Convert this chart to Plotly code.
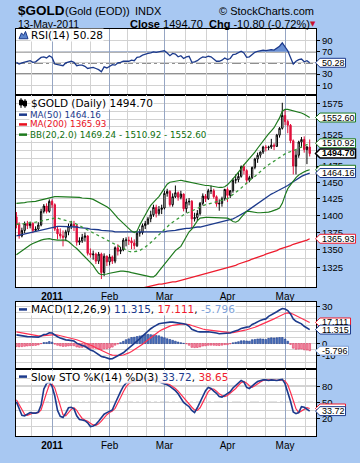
import math
import plotly.graph_objects as go

# ---------------- data ----------------
month_labels = ["<b>2011</b>", "Feb", "Mar", "Apr", "May"]
month_idx = [13, 34, 54, 77, 98]          # trading-day index of first day of month
month_len = [23, 21, 20, 23, 21, 22]      # weekdays in Dec..May (for grid thirds)

opn = [1398,1387,1370,1378,1388,1385,1388,1378,1380,1386,
       1406,1414,1406,1421,1416,1380,1373,1370,1368,1376,
       1384,1387,1385,1361,1363,1368,1370,1345,1343,1344,
       1334,1344,1318,1341,1333,1340,1334,1353,1348,1350,
       1364,1364,1363,1360,1356,1374,1375,1385,1388,1395,
       1401,1412,1403,1409,1411,1433,1436,1416,1428,1434,
       1427,1432,1410,1420,1421,1395,1397,1403,1418,1429,
       1425,1437,1437,1428,1417,1418,1425,1439,1430,1437,
       1453,1454,1459,1474,1468,1453,1457,1473,1486,1492,
       1497,1505,1504,1505,1508,1506,1524,1535,1556,1546,
       1540,1515,1475,1492,1513,1517,1501,1505]
high = [1405,1390,1382,1391,1392,1391,1390,1384,1390,1410,
        1417,1418,1424,1424,1418,1384,1381,1378,1379,1388,
        1392,1392,1387,1368,1373,1375,1371,1352,1349,1346,
        1347,1346,1345,1342,1344,1342,1355,1358,1354,1367,
        1368,1369,1368,1365,1376,1380,1388,1392,1398,1407,
        1416,1416,1414,1416,1437,1440,1438,1433,1445,1436,
        1437,1433,1425,1426,1423,1404,1408,1420,1433,1432,
        1440,1445,1440,1430,1424,1428,1440,1442,1438,1456,
        1462,1466,1476,1478,1470,1460,1474,1488,1496,1498,
        1507,1508,1507,1518,1511,1526,1537,1577,1566,1549,
        1542,1517,1500,1515,1521,1522,1507,1517]
low = [1381,1366,1368,1374,1380,1381,1374,1376,1378,1384,
       1403,1403,1404,1411,1377,1365,1366,1355,1363,1371,
       1380,1377,1356,1357,1360,1362,1342,1339,1336,1330,
       1330,1309,1313,1327,1328,1330,1331,1342,1344,1348,
       1355,1357,1351,1351,1354,1369,1372,1380,1386,1390,
       1398,1397,1400,1402,1409,1428,1413,1413,1426,1422,
       1424,1406,1404,1415,1381,1391,1392,1400,1415,1420,
       1423,1432,1425,1413,1407,1413,1422,1420,1426,1434,
       1448,1450,1457,1462,1447,1450,1455,1470,1480,1488,
       1494,1498,1500,1502,1500,1505,1520,1533,1540,1527,
       1511,1462,1462,1488,1504,1496,1478,1490]
close = [1387,1370,1378,1388,1385,1388,1378,1380,1386,1406,
         1414,1406,1421,1416,1380,1373,1370,1368,1376,1384,
         1387,1385,1361,1363,1368,1370,1345,1343,1344,1334,
         1344,1318,1341,1333,1340,1334,1353,1348,1350,1364,
         1364,1363,1360,1356,1374,1375,1385,1388,1395,1401,
         1412,1403,1409,1411,1433,1436,1416,1428,1434,1427,
         1432,1410,1420,1421,1395,1397,1403,1418,1429,1425,
         1437,1437,1428,1417,1418,1425,1439,1430,1437,1453,
         1454,1459,1474,1468,1453,1457,1473,1486,1492,1497,
         1505,1504,1505,1508,1506,1524,1535,1556,1546,1540,
         1515,1475,1492,1513,1517,1501,1505,1494.70]

ma50 = [1370,1371,1372,1373,1374,1375,1376,1377,1378,1379,
        1380,1381,1382,1383,1384,1384,1384,1384,1384,1384,
        1384,1383,1383,1382,1382,1381,1381,1380,1380,1379,
        1379,1378,1378,1377,1377,1377,1376,1376,1376,1375,
        1375,1375,1375,1375,1375,1375,1375,1375,1375,1375,
        1375,1375,1375,1376,1376,1377,1377,1378,1378,1379,
        1380,1380,1381,1381,1382,1382,1383,1383,1384,1385,
        1386,1386,1387,1388,1389,1390,1391,1392,1393,1395,
        1397,1399,1401,1404,1406,1409,1412,1415,1418,1421,
        1424,1427,1430,1432,1434,1436,1438,1440,1442,1445,
        1448,1451,1454,1456,1459,1461,1463,1464.16]
ma200 = [1262,1263,1263,1264,1265,1266,1266,1267,1268,1269,
         1269,1270,1271,1272,1272,1273,1274,1274,1275,1276,
         1277,1277,1278,1279,1280,1280,1281,1282,1283,1283,
         1284,1285,1286,1286,1287,1288,1289,1289,1290,1291,
         1292,1293,1294,1294,1295,1295,1296,1297,1298,1299,
         1300,1301,1302,1302,1303,1304,1304,1305,1305,1306,
         1307,1308,1309,1310,1311,1312,1313,1314,1315,1316,
         1317,1318,1319,1320,1321,1322,1323,1324,1326,1327,
         1328,1330,1331,1333,1334,1335,1337,1338,1339,1341,
         1342,1344,1345,1346,1348,1349,1351,1352,1353,1355,
         1356,1358,1359,1360,1362,1363,1364,1365.93]
bb_upper = [1418,1418,1419,1419,1420,1420,1421,1421,1422,1423,
            1424,1425,1426,1428,1428,1428,1428,1427,1427,1427,
            1427,1427,1427,1427,1426,1426,1426,1425,1424,1422,
            1420,1418,1416,1413,1410,1406,1401,1396,1392,1388,
            1384,1380,1377,1375,1377,1386,1394,1400,1408,1415,
            1420,1424,1428,1434,1442,1447,1450,1451,1452,1453,
            1453,1452,1451,1451,1450,1449,1448,1447,1446,1445,
            1445,1444,1443,1442,1442,1442,1443,1446,1450,1455,
            1460,1465,1471,1477,1482,1486,1491,1497,1503,1509,
            1515,1520,1526,1531,1536,1544,1552,1563,1566,1566,
            1565,1564,1563,1562,1560,1558,1555,1552.60]
bb_mid = [1387,1387,1388,1388,1389,1389,1390,1390,1391,1392,
          1393,1394,1395,1396,1396,1396,1395,1394,1393,1392,
          1390,1389,1387,1385,1383,1381,1379,1377,1375,1373,
          1371,1369,1367,1364,1362,1360,1358,1356,1354,1352,
          1349,1348,1347,1347,1348,1349,1351,1354,1357,1360,
          1364,1368,1372,1376,1380,1384,1387,1390,1393,1396,
          1399,1401,1403,1405,1407,1409,1411,1413,1415,1416,
          1417,1418,1419,1420,1421,1422,1423,1425,1428,1431,
          1434,1438,1441,1445,1449,1452,1456,1459,1463,1467,
          1471,1474,1477,1480,1483,1486,1489,1492,1494,1496,
          1497,1499,1501,1503,1505,1507,1509,1510.92]
bb_lower = [1343,1346,1349,1352,1355,1357,1359,1361,1362,1364,
            1365,1366,1366,1365,1364,1364,1364,1364,1364,1362,
            1358,1355,1352,1348,1344,1340,1336,1332,1328,1322,
            1317,1315,1315,1316,1317,1318,1319,1319,1320,1320,
            1320,1319,1318,1317,1317,1316,1315,1314,1313,1312,
            1312,1315,1320,1325,1330,1335,1340,1345,1349,1352,
            1355,1362,1370,1376,1380,1386,1392,1396,1397,1397,
            1397,1397,1397,1397,1397,1397,1397,1396,1394,1391,
            1390,1392,1397,1402,1406,1406,1405,1404,1404,1404,
            1404,1404,1405,1406,1407,1409,1411,1418,1430,1440,
            1446,1452,1457,1461,1464,1466,1468,1469.24]

rsi = [51,48,50,52,53,54,51,52,56,60,
       61,59,63,60,48,47,46,45,50,52,
       53,51,45,46,46,44,40,41,42,40,
       38,34,43,41,44,47,46,50,51,53,
       53,53,55,54,60,61,64,66,67,68,
       70,69,70,71,72,68,63,67,66,61,
       63,58,61,62,51,52,54,58,61,60,
       62,61,57,53,53,55,59,56,58,65,
       66,68,71,68,60,61,65,69,71,72,
       73,72,73,74,73,77,80,86,80,72,
       60,48,53,56,57,52,54,50.28]

macd = [7.0,6.5,6.0,5.8,5.6,5.5,5.3,5.0,5.2,6.2,
        7.3,7.6,8.7,8.5,6.8,5.5,4.5,3.5,3.0,2.8,
        2.6,2.0,0.3,-0.8,-1.6,-2.2,-4.0,-5.2,-6.0,-7.3,
        -9.0,-10.5,-11.0,-12.0,-12.4,-12.3,-11.0,-10.2,-9.0,-7.5,
        -5.5,-3.8,-1.5,0.0,2.0,4.0,6.0,8.5,10.5,12.0,
        13.5,14.8,16.0,16.5,17.0,17.2,17.4,17.4,17.2,16.8,
        16.5,16.0,15.5,14.0,11.5,10.5,9.8,9.5,9.8,9.5,
        9.6,9.4,9.0,8.5,8.0,8.0,8.2,8.0,8.6,9.5,
        10.2,11.0,12.3,13.0,13.3,13.6,15.5,16.5,17.8,18.8,
        19.5,20.0,22.0,23.5,24.5,25.8,27.2,28.4,28.0,26.8,
        24.0,20.0,18.0,17.0,16.0,14.0,12.5,11.315]
signal = [9.5,9.1,8.5,8.0,7.6,7.2,6.9,6.5,6.3,6.3,
          6.5,6.7,7.1,7.4,7.3,6.9,6.4,5.8,5.2,4.7,
          4.3,3.8,3.1,2.3,1.5,0.7,-0.2,-1.2,-2.2,-3.4,
          -4.5,-5.7,-6.8,-7.8,-8.7,-9.4,-9.7,-9.8,-9.7,-9.3,
          -8.6,-7.6,-6.4,-5.1,-3.7,-2.2,-0.6,1.2,3.0,4.8,
          6.5,8.2,9.7,11.1,12.3,13.3,14.1,14.8,15.3,15.6,
          15.8,15.8,15.7,15.4,14.6,13.8,13.0,12.3,11.8,11.3,
          11.0,10.7,10.4,10.0,9.6,9.3,9.1,8.9,8.8,8.9,
          9.2,9.5,10.1,10.7,11.2,11.7,12.4,13.2,14.1,15.0,
          15.9,16.7,17.8,18.9,20.0,21.1,22.3,23.5,24.4,24.9,
          24.7,23.8,22.6,21.5,20.4,19.1,17.8,17.111]
hist = [-2.5,-2.6,-2.5,-2.2,-2.0,-1.7,-1.6,-1.5,-1.1,-0.1,
        0.8,0.9,1.6,1.1,-0.5,-1.4,-1.9,-2.3,-2.2,-1.9,
        -1.7,-1.8,-2.8,-3.1,-3.1,-2.9,-3.8,-4.0,-3.8,-3.9,
        -4.5,-4.8,-4.2,-4.2,-3.7,-2.9,-1.3,-0.4,0.7,1.8,
        3.1,3.8,4.9,5.1,5.7,6.2,6.6,7.3,7.5,7.2,
        7.0,6.6,6.3,5.4,4.7,3.9,3.3,2.6,1.9,1.2,
        0.7,0.2,-0.2,-1.4,-3.1,-3.3,-3.2,-2.8,-2.0,-1.8,
        -1.4,-1.3,-1.4,-1.5,-1.6,-1.3,-0.9,-0.9,-0.2,0.6,
        1.0,1.5,2.2,2.3,2.1,1.9,3.1,3.3,3.7,3.8,
        3.6,3.3,4.2,4.6,4.5,4.7,4.9,4.9,3.6,1.9,
        -0.7,-3.8,-4.6,-4.5,-4.4,-5.1,-5.3,-5.796]

sto_k = [51,38,26,25,28,31,30,30,32,45,
         75,85,88,80,62,35,24,22,30,40,
         41,38,25,18,17,16,12,5,6,9,
         15,22,28,31,34,36,48,60,70,80,
         86,88,89,90,92,94,95,95,94,93,
         91,90,89,86,85,83,80,76,72,66,
         58,50,46,42,35,31,40,50,60,72,
         78,76,71,67,61,60,63,67,70,77,
         82,87,91,88,78,76,81,85,89,91,
         92,92,91,92,91,91,92,93,85,70,
         52,32,29,31,42,41,38,33.72]
sto_d = [55,46,36,28,26,28,30,30,31,36,
         50,68,83,84,77,59,40,27,25,31,
         37,40,35,27,20,17,15,11,8,7,
         10,15,22,27,31,34,39,48,59,70,
         79,85,88,89,90,92,94,95,95,94,
         93,91,90,88,87,85,83,80,76,71,
         65,58,51,46,41,36,35,40,50,61,
         70,75,75,71,66,63,61,63,67,71,
         76,82,87,89,86,81,78,81,85,88,
         91,92,92,92,91,91,91,92,90,83,
         69,51,38,31,34,38,40,38.65]

n = len(close)
idx = list(range(n))

# ---------------- geometry helpers ----------------
W, H = 360, 463
ML, MR, MT, MB = 16, 44, 29, 16
PW, PH = W - ML - MR, H - MT - MB


def X(px):
    return (px - ML) / PW


def Y(py):
    return (H - MB - py) / PH


NAVY = "#1c3a8c"
RED = "#ee1c2e"
CANDLE_RED = "#e0103c"
GREEN = "#1e7a1e"
GRID = "#d2d2d2"
MONTH_GRID = "#96a6c4"
BG = "#a8c8f2"
TICKFONT = dict(family="Liberation Sans, Arial", size=9.5, color="black")

dom = {
    "rsi": [Y(97), Y(29)],
    "px": [Y(294), Y(97)],
    "macd": [Y(378), Y(309)],
    "sto": [Y(447), Y(378)],
}
rng = {
    "rsi": [-8, 111],
    "px": [3.11328, 3.20130],
    "macd": [-20.5, 34],
    "sto": [-12.7, 112.7],
}

# minor vertical grid: thirds of each month
starts = [month_idx[0] - month_len[0]] + month_idx
minor_x = []
for s, ln in zip(starts, month_len):
    minor_x += [s + ln / 3.0, s + 2 * ln / 3.0]
minor_x = [v for v in minor_x if -0.1 < v < 109]

XR = [-0.15, 109.3]

fig = go.Figure()

# ---------- RSI ----------
fig.add_trace(go.Scatter(x=idx, y=[70] * n, mode="lines", line=dict(width=0),
                         xaxis="x", yaxis="y", hoverinfo="skip"))
fig.add_trace(go.Scatter(x=idx, y=[max(v, 70) for v in rsi], mode="lines",
                         line=dict(width=0), fill="tonexty", fillcolor="#6a90d4",
                         xaxis="x", yaxis="y", hoverinfo="skip"))
fig.add_trace(go.Scatter(x=idx, y=rsi, mode="lines", line=dict(color=NAVY, width=1.3),
                         xaxis="x", yaxis="y"))

# ---------- price ----------
fig.add_trace(go.Scatter(x=idx, y=ma200, mode="lines", line=dict(color=RED, width=1.3),
                         xaxis="x2", yaxis="y2"))
fig.add_trace(go.Scatter(x=idx, y=ma50, mode="lines", line=dict(color=NAVY, width=1.3),
                         xaxis="x2", yaxis="y2"))
fig.add_trace(go.Scatter(x=idx, y=bb_upper, mode="lines", line=dict(color=GREEN, width=1.2),
                         xaxis="x2", yaxis="y2"))
fig.add_trace(go.Scatter(x=idx, y=bb_lower, mode="lines", line=dict(color=GREEN, width=1.2),
                         xaxis="x2", yaxis="y2"))
fig.add_trace(go.Scatter(x=idx, y=bb_mid, mode="lines",
                         line=dict(color="#3a9a3a", width=1.3, dash="dot"),
                         xaxis="x2", yaxis="y2"))
fig.add_trace(go.Candlestick(
    x=idx, open=opn, high=high, low=low, close=close, xaxis="x2", yaxis="y2",
    increasing=dict(line=dict(color="black", width=1), fillcolor="white"),
    decreasing=dict(line=dict(color=CANDLE_RED, width=1), fillcolor=CANDLE_RED),
    whiskerwidth=0))

# ---------- MACD ----------
fig.add_trace(go.Bar(
    x=idx, y=hist, width=0.62, xaxis="x3", yaxis="y3",
    marker=dict(color=["#4a74c0" if v >= 0 else "#f49aae" for v in hist],
                line=dict(color=["#1c3a8c" if v >= 0 else "#e0305a" for v in hist], width=0.6))))
fig.add_trace(go.Scatter(x=idx, y=signal, mode="lines", line=dict(color="#ff3050", width=1.2),
                         xaxis="x3", yaxis="y3"))
fig.add_trace(go.Scatter(x=idx, y=macd, mode="lines", line=dict(color=NAVY, width=1.6),
                         xaxis="x3", yaxis="y3"))

# ---------- Slow STO ----------
fig.add_trace(go.Scatter(x=idx, y=sto_d, mode="lines", line=dict(color="#ff3050", width=1.2),
                         xaxis="x4", yaxis="y4"))
fig.add_trace(go.Scatter(x=idx, y=sto_k, mode="lines", line=dict(color=NAVY, width=1.6),
                         xaxis="x4", yaxis="y4"))


def xaxis(anchor, labels):
    return dict(
        domain=[0, 1], anchor=anchor, range=XR, tickmode="array",
        tickvals=month_idx, ticktext=month_labels, showticklabels=labels,
        tickfont=dict(family="Liberation Sans, Arial", size=10, color="black"),
        ticks="", showgrid=True, gridcolor=MONTH_GRID, gridwidth=1,
        minor=dict(tickmode="array", tickvals=minor_x, showgrid=True, gridcolor=GRID,
                   gridwidth=1, ticks=""),
        showline=True, mirror=True, linecolor="black", linewidth=1, zeroline=False,
        fixedrange=True, rangeslider=dict(visible=False))


def yaxis(anchor, key, tickvals, grid_vals, minor_vals, log=False):
    d = dict(
        domain=dom[key], anchor=anchor, range=rng[key], side="right",
        tickmode="array", tickvals=tickvals, ticktext=[str(v) for v in tickvals],
        tickfont=TICKFONT, ticks="outside", ticklen=3, tickcolor="black",
        showgrid=False,
        minor=dict(tickmode="array", tickvals=grid_vals + minor_vals, showgrid=True,
                   gridcolor=GRID, ticks=""),
        showline=True, mirror=True, linecolor="black", linewidth=1, zeroline=False,
        fixedrange=True)
    if log:
        d["type"] = "log"
    return d


# labelled ticks (labels hidden behind value tags in the reference are left out)
price_ticks = [1325, 1350, 1375, 1400, 1425, 1450, 1475, 1525, 1575]
price_grid = [1325, 1350, 1375, 1400, 1425, 1450, 1475, 1500, 1525, 1550, 1575]
price_minor = [1312.5, 1337.5, 1362.5, 1387.5, 1412.5, 1437.5, 1462.5, 1487.5,
               1512.5, 1537.5, 1562.5]

fig.update_layout(
    width=W, height=H, margin=dict(l=ML, r=MR, t=MT, b=MB),
    paper_bgcolor=BG, plot_bgcolor="white", showlegend=False, bargap=0.3,
    xaxis=xaxis("y", False), xaxis2=xaxis("y2", True),
    xaxis3=xaxis("y3", False), xaxis4=xaxis("y4", True),
    yaxis=yaxis("x", "rsi", [10, 30, 70, 90], [10, 30, 50, 70, 90], []),
    yaxis2=yaxis("x2", "px", price_ticks, price_grid, price_minor, log=True),
    yaxis3=yaxis("x3", "macd", [-10, 0, 30], [-10, 0, 10, 20, 30], [-15, -5, 5, 15, 25]),
    yaxis4=yaxis("x4", "sto", [20, 50, 80], [20, 50, 80], [5, 35, 65, 95]),
)
for k in ["xaxis2", "xaxis3", "xaxis4"]:
    fig.layout[k].matches = "x"

shapes = []
# reference lines
for yref, val, dash in [("y", 70, "solid"), ("y", 30, "solid"), ("y", 50, "dashdot"),
                        ("y4", 80, "solid"), ("y4", 20, "solid"), ("y4", 50, "dashdot")]:
    shapes.append(dict(type="line", xref="x domain", yref=yref, x0=0, x1=1, y0=val, y1=val,
                       line=dict(color="black", width=1, dash=dash), layer="below"))


def paper_y(key, v):
    d0, d1 = dom[key]
    r0, r1 = rng[key]
    f = math.log10(v) if key == "px" else v
    return d0 + (f - r0) / (r1 - r0) * (d1 - d0)


annotations = []
TAGFONT = 9


def text_w(s):
    w = 0.0
    for ch in s:
        w += {".": 0.278, "-": 0.333}.get(ch, 0.556)
    return w * TAGFONT


def tag(key, v, text, color, bold=False, show_text=True):
    y = paper_y(key, v)
    h = 4.6 / PH
    x_tip, x_l = X(315.5), X(320)
    x_r = X(320 + text_w(text) + 3)
    shapes.append(dict(
        type="path", xref="paper", yref="paper",
        path=(f"M {x_tip},{y} L {x_l},{y + h} L {x_r},{y + h} L {x_r},{y - h} "
              f"L {x_l},{y - h} Z"),
        line=dict(color=color, width=1.5 if bold else 1), fillcolor="white", layer="above"))
    if show_text:
        annotations.append(dict(
            xref="paper", yref="paper", x=X(321.3), y=y, xanchor="left", yanchor="middle",
            text=f"<b>{text}</b>" if bold else text, showarrow=False,
            font=dict(family="Liberation Sans, Arial", size=TAGFONT, color="black"),
            borderpad=0))


tag("rsi", rsi[-1], "50.28", NAVY)
tag("px", bb_upper[-1], "1552.60", GREEN)
tag("px", bb_mid[-1], "1510.92", GREEN)
tag("px", bb_lower[-1], "1469.24", GREEN, show_text=False)
tag("px", ma50[-1], "1464.16", NAVY)
tag("px", ma200[-1], "1365.93", RED)
tag("px", close[-1], "1494.70", "black", bold=True)
tag("macd", signal[-1], "17.111", RED)
tag("macd", macd[-1], "11.315", NAVY)
tag("macd", hist[-1], "-5.796", "#7e9fd6")
tag("sto", sto_d[-1], "38.65", RED, show_text=False)
tag("sto", sto_k[-1], "33.72", NAVY)

LEG = "DejaVu Sans, Verdana"


def label(px_x, px_y, text, size, color="black", family=LEG, anchor="left", bg=None):
    d = dict(xref="paper", yref="paper", x=X(px_x), y=Y(px_y), xanchor=anchor,
             yanchor="middle", text=text, showarrow=False,
             font=dict(family=family, size=size, color=color))
    if bg:
        d["bgcolor"] = bg
        d["borderpad"] = 0
    annotations.append(d)


WBG = "rgba(255,255,255,0.85)"
# header
label(16, 10.5, "<b>$GOLD</b>", 13.5, family="Liberation Sans, Arial")
label(63, 11, "(Gold (EOD))", 11, family="Liberation Sans, Arial")
label(133, 11, "INDX", 11, family="Liberation Sans, Arial")
label(316, 11, "© StockCharts.com", 11, family="Liberation Sans, Arial", anchor="right")
label(16, 23.5, "13-May-2011", 10.5, family="Liberation Sans, Arial")
label(128, 23.5, "<b>Close</b> 1494.70", 11, family="Liberation Sans, Arial")
label(207, 23.5, "<b>Chg</b> -10.80 (-0.72%)", 11, family="Liberation Sans, Arial")
label(313, 24, "▼", 7, color="#c8102e", family="DejaVu Sans", anchor="center")

# panel legends
label(30, 35.5, "RSI(14) 50.28", 10.5, bg=WBG)
label(30, 105, "$GOLD (Daily) 1494.70", 10.5, bg=WBG)
label(29, 117, "MA(50) 1464.16", 8.8, color=NAVY, bg=WBG)
label(29, 127, "MA(200) 1365.93", 8.8, color="#e8101e", bg=WBG)
label(29, 137.5, "BB(20,2.0) 1469.24 - 1510.92 - 1552.60", 8.8, color="#11700f", bg=WBG)
label(30, 317, "MACD(12,26,9) <span style='color:#1c3a8c'>11.315</span>, "
               "<span style='color:#ee1c2e'>17.111</span>, "
               "<span style='color:#7e9fd6'>-5.796</span>", 10.5, bg=WBG)
label(30, 386, "Slow STO %K(14) %D(3) <span style='color:#1c3a8c'>33.72</span>, "
               "<span style='color:#ee1c2e'>38.65</span>", 10.5, bg=WBG)

# legend icons
for yy, col in [(117, NAVY), (127, "#e8101e"), (137.5, GREEN), (317, NAVY), (386, NAVY)]:
    shapes.append(dict(type="line", xref="paper", yref="paper", x0=X(19), x1=X(27),
                       y0=Y(yy), y1=Y(yy), line=dict(color=col, width=2.5), layer="above"))
shapes.append(dict(type="path", xref="paper", yref="paper",
                   path=f"M {X(19)},{Y(39)} L {X(21.5)},{Y(33)} L {X(23.5)},{Y(35.5)} "
                        f"L {X(25.5)},{Y(31.5)} L {X(28)},{Y(39)} Z",
                   fillcolor="#5b84cc", line=dict(color=NAVY, width=1), layer="above"))
for cx, y0, y1, b0, b1 in [(21, 100, 110, 102, 107), (25, 101, 110, 103, 108)]:
    shapes.append(dict(type="line", xref="paper", yref="paper", x0=X(cx), x1=X(cx),
                       y0=Y(y0), y1=Y(y1), line=dict(color="black", width=1), layer="above"))
    shapes.append(dict(type="rect", xref="paper", yref="paper", x0=X(cx - 1.5), x1=X(cx + 1.5),
                       y0=Y(b1), y1=Y(b0), line=dict(color="black", width=1),
                       fillcolor="black", layer="above"))

fig.update_layout(shapes=shapes, annotations=annotations)
fig.write_html(
    "out.html",
    config={"displayModeBar": False},
    post_script="document.body.style.margin='0';document.body.style.overflow='hidden';",
)
